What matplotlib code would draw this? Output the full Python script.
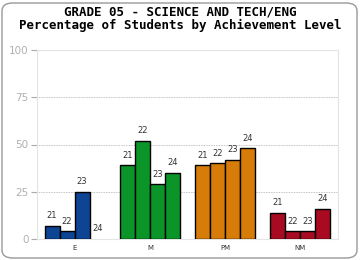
import numpy as np
import matplotlib
matplotlib.use("Agg")
import matplotlib.pyplot as plt
from matplotlib.patches import FancyBboxPatch

# data
levels = ["E", "M", "PM", "NM"]
years = ["21", "22", "23", "24"]
values = {
    "E": [7, 4, 25, 0],
    "M": [39, 52, 29, 35],
    "PM": [39, 40, 42, 48],
    "NM": [14, 4, 4, 16],
}
colors = {"E": "#0d4493", "M": "#0b9428", "PM": "#d77c08", "NM": "#a80a22"}
y_ticks = [0, 25, 50, 75, 100]

fig = plt.figure(figsize=(3.6, 2.6), dpi=100)
ax = fig.add_axes([37 / 360, 21 / 260, 301 / 360, 189 / 260])

# rounded outer border
fig.patches.append(FancyBboxPatch((2 / 360, 2 / 260), 355 / 360, 255 / 260,
                                  boxstyle="round,pad=0,rounding_size=0.03",
                                  transform=fig.transFigure, fill=False,
                                  edgecolor="#999999", linewidth=1.0))

w = 0.2
for i, lvl in enumerate(levels):
    for j, v in enumerate(values[lvl]):
        x = i - 0.3 + j * w
        if v > 0:
            ax.bar(x, v, width=w, color=colors[lvl], edgecolor="black",
                   linewidth=1.0, zorder=3)
        ax.text(x, v + 3, years[j], ha="center", va="bottom", fontsize=6,
                color="#333333", zorder=4)

ax.set_xlim(-0.5, 3.5)
ax.set_ylim(0, 100)
ax.set_yticks(y_ticks)
ax.set_yticklabels([str(t) for t in y_ticks], fontsize=7.5, color="#b0b0b0")
ax.set_xticks(range(len(levels)))
ax.set_xticklabels(levels, fontsize=5, color="#333333")
ax.tick_params(axis="x", length=0, pad=4)
ax.tick_params(axis="y", length=4, color="#aaaaaa", pad=2)
for t in y_ticks[1:]:
    ax.axhline(t, color="#b0b0b0", linestyle=(0, (1, 1)), linewidth=0.6, zorder=1)
for s in ax.spines.values():
    s.set_color("#e4e4e4")
    s.set_linewidth(0.8)

fig.text(0.5, 1 - 12 / 260, "GRADE 05 - SCIENCE AND TECH/ENG", ha="center",
         va="center", fontsize=9, fontweight="bold", family="DejaVu Sans Mono")
fig.text(0.5, 1 - 25 / 260, "Percentage of Students by Achievement Level",
         ha="center", va="center", fontsize=9, fontweight="bold",
         family="DejaVu Sans Mono")

fig.savefig("out.png", dpi=100)
